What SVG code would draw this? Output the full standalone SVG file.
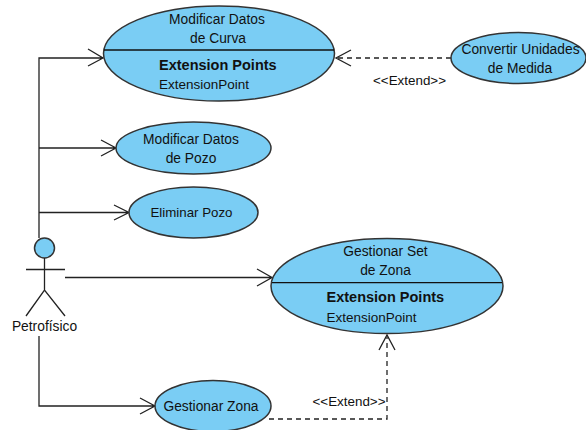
<svg xmlns="http://www.w3.org/2000/svg" width="586" height="430" viewBox="0 0 586 430">
<style>
.uc{fill:#7acdf4;stroke:#333;stroke-width:1.5}
.div{stroke:#111;stroke-width:1.3;fill:none}
.ln{stroke:#222;stroke-width:1.3;fill:none}
.da{stroke:#222;stroke-width:1.3;fill:none;stroke-dasharray:5 4}
.t{font-family:"Liberation Sans",Arial,sans-serif;font-size:13.800px;fill:#111}
.m{text-anchor:middle}
.b{font-weight:bold;font-size:14.500px}
.x{font-size:13.400px}
.e{font-size:13.500px}
</style>
<rect width="586" height="430" fill="#fff"/>
<g id="connectors">
<path class="ln" d="M39 238V58H103M88 49L103 58L88 66"/>
<path class="ln" d="M39 148H116M101 140L116 148L101 156"/>
<path class="ln" d="M39 212.500H129M114 205L129 212.500L114 220"/>
<path class="ln" d="M65 277.500H272M257 269L272 277.500L257 286"/>
<path class="ln" d="M39 336V406H155M140 398L155 406L140 414"/>
<path class="da" d="M269 419H387V337"/>
<path class="ln" d="M379 350L387 335L395 350"/>
<path class="da" d="M451 58H338"/>
<path class="ln" d="M351 50L336 58L351 66"/>
<text class="t m x" x="409.500" y="85">&lt;&lt;Extend&gt;&gt;</text>
<text class="t m x" x="349" y="406">&lt;&lt;Extend&gt;&gt;</text>
</g>
<g id="uc-modificar-curva">
<ellipse class="uc" cx="219" cy="53.500" rx="115.500" ry="47.500"/>
<path class="div" d="M104 50H334"/>
<text class="t m" x="217" y="24">Modificar Datos</text>
<text class="t m" x="218" y="43">de Curva</text>
<text class="t b" x="159" y="70">Extension Points</text>
<text class="t e" x="159" y="89">ExtensionPoint</text>
</g>
<g id="uc-modificar-pozo">
<ellipse class="uc" cx="193.500" cy="148" rx="77.500" ry="26"/>
<text class="t m" x="191" y="144">Modificar Datos</text>
<text class="t m" x="191" y="163">de Pozo</text>
</g>
<g id="uc-eliminar-pozo">
<ellipse class="uc" cx="193.500" cy="212.500" rx="64.500" ry="25.500"/>
<text class="t m" x="191.500" y="217" style="font-size:13.300px">Eliminar Pozo</text>
</g>
<g id="uc-convertir">
<ellipse class="uc" cx="518.500" cy="58" rx="67.500" ry="25.500"/>
<text class="t m" x="520.500" y="54">Convertir Unidades</text>
<text class="t m" x="520" y="73">de Medida</text>
</g>
<g id="uc-gestionar-set">
<ellipse class="uc" cx="387" cy="286" rx="116" ry="47.500"/>
<path class="div" d="M272 282.700H502"/>
<text class="t m" x="385.500" y="256">Gestionar Set</text>
<text class="t m" x="385.500" y="275">de Zona</text>
<text class="t b" x="326.500" y="302">Extension Points</text>
<text class="t e" x="326.500" y="322">ExtensionPoint</text>
</g>
<g id="uc-gestionar-zona">
<ellipse class="uc" cx="213" cy="406" rx="58" ry="25.500"/>
<text class="t m" x="211" y="411">Gestionar Zona</text>
</g>
<g id="actor-petrofisico">
<circle class="uc" cx="44.500" cy="248" r="10"/>
<path class="ln" d="M44.500 258V290M26 269.500H65M26 316L44.500 290L65 316"/>
<text class="t m" x="44.500" y="331">Petrofísico</text>
</g>
</svg>
